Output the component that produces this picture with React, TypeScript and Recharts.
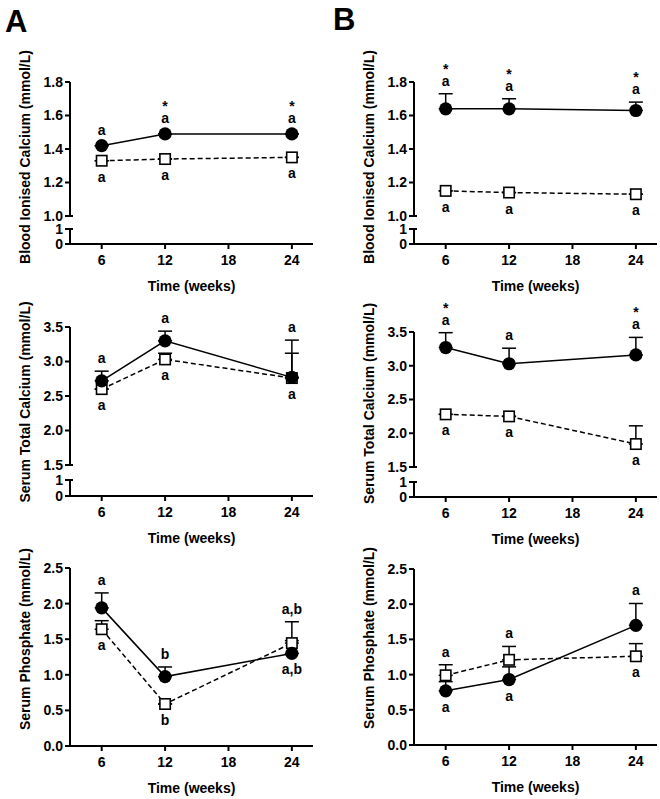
import React from 'react';
import { LineChart, Line, XAxis, YAxis, ErrorBar } from 'recharts';

const weeks = [6, 12, 24];
const timeTicks = [6, 12, 18, 24];

// A – blood ionised calcium
const aIonF = [1.42, 1.49, 1.49];
const aIonFErr = [0, 0, 0];
const aIonO = [1.33, 1.34, 1.35];
const aIonOErr = [0, 0, 0];
const aIonFUp = ['a', 'a', 'a'];
const aIonFStar = ['', '*', '*'];
const aIonFDown = ['', '', ''];
const aIonOUp = ['', '', ''];
const aIonODown = ['a', 'a', 'a'];

// B – blood ionised calcium
const bIonF = [1.64, 1.64, 1.63];
const bIonFErr = [0.09, 0.06, 0.05];
const bIonO = [1.15, 1.14, 1.13];
const bIonOErr = [0, 0, 0];
const bIonFUp = ['a', 'a', 'a'];
const bIonFStar = ['*', '*', '*'];
const bIonFDown = ['', '', ''];
const bIonOUp = ['', '', ''];
const bIonODown = ['a', 'a', 'a'];

// A – serum total calcium
const aTotF = [2.72, 3.3, 2.77];
const aTotFErr = [0.14, 0.14, 0.54];
const aTotO = [2.6, 3.03, 2.76];
const aTotOErr = [0, 0.09, 0.36];
const aTotFUp = ['a', 'a', 'a'];
const aTotFStar = ['', '', ''];
const aTotFDown = ['', '', ''];
const aTotOUp = ['', '', ''];
const aTotODown = ['a', 'a', 'a'];

// B – serum total calcium
const bTotF = [3.27, 3.03, 3.16];
const bTotFErr = [0.22, 0.23, 0.26];
const bTotO = [2.28, 2.25, 1.84];
const bTotOErr = [0, 0, 0.27];
const bTotFUp = ['a', 'a', 'a'];
const bTotFStar = ['*', '', '*'];
const bTotFDown = ['', '', ''];
const bTotOUp = ['', '', ''];
const bTotODown = ['a', 'a', 'a'];

// A – serum phosphate
const aPhF = [1.94, 0.975, 1.3];
const aPhFErr = [0.21, 0.135, 0.18];
const aPhO = [1.64, 0.59, 1.445];
const aPhOErr = [0.12, 0, 0.3];
const aPhFUp = ['a', 'b', ''];
const aPhFStar = ['', '', ''];
const aPhFDown = ['', '', 'a,b'];
const aPhOUp = ['', '', 'a,b'];
const aPhODown = ['a', 'b', ''];

// B – serum phosphate
const bPhF = [0.77, 0.93, 1.7];
const bPhFErr = [0.13, 0.18, 0.31];
const bPhO = [0.99, 1.21, 1.26];
const bPhOErr = [0.15, 0.19, 0.18];
const bPhFUp = ['', '', 'a'];
const bPhFStar = ['', '', ''];
const bPhFDown = ['a', 'a', ''];
const bPhOUp = ['a', 'a', ''];
const bPhODown = ['', '', 'a'];

const ionTicks = [1.0, 1.2, 1.4, 1.6, 1.8];
const totTicks = [1.5, 2.0, 2.5, 3.0, 3.5];
const phTicks = [0, 0.5, 1.0, 1.5, 2.0, 2.5];
const stubTicks = [0, 1];

const buildRows = (
  f: number[], fErr: number[], o: number[], oErr: number[],
  fUp: string[], fStar: string[], fDown: string[], oUp: string[], oDown: string[],
) =>
  weeks.map((t, i) => ({
    t,
    f: f[i],
    fErr: [0, fErr[i]],
    fTop: f[i] + fErr[i],
    o: o[i],
    oErr: [0, oErr[i]],
    oTop: o[i] + oErr[i],
    fUp: fUp[i],
    fStar: fStar[i],
    fDown: fDown[i],
    oUp: oUp[i],
    oDown: oDown[i],
  }));

const FONT = '"Liberation Sans", Arial, Helvetica, sans-serif';
const PLOT_LEFT = 70;
const PLOT_W = 243;
const CW = 316;
const Y_AXIS_W = 45;
const TOP_PAD = 52;
const X_AXIS_H = 60;
const X_DOMAIN: [number, number] = [3, 26];

const axisStroke = { stroke: '#000', strokeWidth: 2 };
const boldText = { fill: '#000', fontSize: 14, fontWeight: 700 };

const yTick = (cap: number | null, digits: number) => (p: any) => {
  const v = p.payload.value;
  const ax = p.x + 7;
  return (
    <g key={`yt-${v}`}>
      <text x={p.x} y={p.y} dy="0.355em" textAnchor="end" {...boldText}>
        {v.toFixed(digits)}
      </text>
      {cap !== null && v === cap && (
        <line x1={ax} x2={ax + 3} y1={p.y} y2={p.y} stroke="#000" strokeWidth={2} />
      )}
    </g>
  );
};

const yLabel = (text: string, shift: number) => (p: any) => {
  const vb = p.viewBox || { x: 25, y: 0, width: 0, height: 0 };
  const x = vb.x;
  const y = vb.y + vb.height / 2 + shift;
  return (
    <text x={x} y={y} transform={`rotate(-90 ${x} ${y})`} textAnchor="middle" dominantBaseline="central" {...boldText}>
      {text}
    </text>
  );
};

const xLabel = (p: any) => {
  const vb = p.viewBox;
  return (
    <text x={vb.x + vb.width / 2} y={vb.y + 46.5} textAnchor="middle" {...boldText}>
      Time (weeks)
    </text>
  );
};

const circleDot = (p: any) => (
  <g key={`f-${p.index}`}>
    <circle cx={p.cx} cy={p.cy} r={6.6} fill="#000" />
    {p.payload.fDown && (
      <text x={p.cx} y={p.cy + 21} textAnchor="middle" {...boldText}>
        {p.payload.fDown}
      </text>
    )}
  </g>
);

const squareDot = (p: any) => (
  <g key={`o-${p.index}`}>
    <rect x={p.cx - 5.2} y={p.cy - 5.2} width={10.4} height={10.4} fill="#fff" stroke="#000" strokeWidth={1.6} />
    {p.payload.oDown && (
      <text x={p.cx} y={p.cy + 21} textAnchor="middle" {...boldText}>
        {p.payload.oDown}
      </text>
    )}
  </g>
);

const aboveDot = (k: 'f' | 'o') => (p: any) => {
  const d = p.payload;
  const txt = d[k + 'Up'];
  const star = k === 'f' ? d.fStar : '';
  const hasErr = d[k + 'Err'][1] > 0;
  const base = p.cy - (hasErr ? 12 : 15) + 4;
  return (
    <g key={`${k}u-${p.index}`}>
      {txt && (
        <text x={p.cx} y={base} textAnchor="middle" {...boldText}>
          {txt}
        </text>
      )}
      {star && (
        <text x={p.cx} y={base - 12} textAnchor="middle" {...boldText}>
          {star}
        </text>
      )}
    </g>
  );
};

type PanelProps = {
  dx: number;
  top: number;
  bottom: number;
  stub?: [number, number];
  domain: [number, number];
  ticks: number[];
  label: string;
  shift: number;
  rows: any[];
};

function Panel({ dx, top, bottom, stub, domain, ticks, label, shift, rows }: PanelProps) {
  const plotH = bottom - top;
  const right = CW - PLOT_LEFT - PLOT_W;
  const left = PLOT_LEFT - Y_AXIS_W;
  const bottomPad = stub ? stub[1] + X_AXIS_H - bottom : 0;
  const mainH = TOP_PAD + plotH + (stub ? bottomPad : X_AXIS_H);
  return (
    <>
      <div style={{ position: 'absolute', left: dx, top: top - TOP_PAD }}>
        <LineChart width={CW} height={mainH} data={rows} margin={{ top: TOP_PAD, right, bottom: stub ? bottomPad : 0, left }}>
          <XAxis
            type="number"
            dataKey="t"
            domain={X_DOMAIN}
            ticks={timeTicks}
            interval={0}
            hide={!!stub}
            height={X_AXIS_H}
            axisLine={axisStroke}
            tickLine={axisStroke}
            tickSize={5}
            tickMargin={6}
            tick={boldText}
            label={xLabel}
          />
          <YAxis
            type="number"
            domain={domain}
            ticks={ticks}
            interval={0}
            width={Y_AXIS_W}
            axisLine={axisStroke}
            tickLine={axisStroke}
            tickSize={5}
            tickMargin={2}
            tick={yTick(stub ? domain[0] : null, 1)}
            label={yLabel(label, shift)}
          />
          <Line dataKey="o" stroke="#000" strokeWidth={1.5} strokeDasharray="5 3" dot={squareDot} activeDot={false} isAnimationActive={false}>
            <ErrorBar dataKey="oErr" direction="y" width={7} stroke="#000" strokeWidth={1.5} isAnimationActive={false} />
          </Line>
          <Line dataKey="f" stroke="#000" strokeWidth={1.5} dot={circleDot} activeDot={false} isAnimationActive={false}>
            <ErrorBar dataKey="fErr" direction="y" width={7} stroke="#000" strokeWidth={1.5} isAnimationActive={false} />
          </Line>
          <Line dataKey="oTop" stroke="none" dot={aboveDot('o')} activeDot={false} isAnimationActive={false} />
          <Line dataKey="fTop" stroke="none" dot={aboveDot('f')} activeDot={false} isAnimationActive={false} />
        </LineChart>
      </div>
      {stub && (
        <div style={{ position: 'absolute', left: dx, top: stub[0] - 10 }}>
          <LineChart width={CW} height={10 + stub[1] - stub[0] + X_AXIS_H} data={rows} margin={{ top: 10, right, bottom: 0, left }}>
            <XAxis
              type="number"
              dataKey="t"
              domain={X_DOMAIN}
              allowDataOverflow
              ticks={timeTicks}
              interval={0}
              height={X_AXIS_H}
              axisLine={axisStroke}
              tickLine={axisStroke}
              tickSize={5}
              tickMargin={6}
              tick={boldText}
              label={xLabel}
            />
            <YAxis
              type="number"
              domain={[0, 1]}
              allowDataOverflow
              ticks={stubTicks}
              interval={0}
              width={Y_AXIS_W}
              axisLine={axisStroke}
              tickLine={axisStroke}
              tickSize={5}
              tickMargin={2}
              tick={yTick(1, 0)}
            />
            <Line dataKey="f" stroke="none" dot={false} activeDot={false} isAnimationActive={false} />
          </LineChart>
        </div>
      )}
    </>
  );
}

const B_DX = 344;

export default function App() {
  const aIon = buildRows(aIonF, aIonFErr, aIonO, aIonOErr, aIonFUp, aIonFStar, aIonFDown, aIonOUp, aIonODown);
  const bIon = buildRows(bIonF, bIonFErr, bIonO, bIonOErr, bIonFUp, bIonFStar, bIonFDown, bIonOUp, bIonODown);
  const aTot = buildRows(aTotF, aTotFErr, aTotO, aTotOErr, aTotFUp, aTotFStar, aTotFDown, aTotOUp, aTotODown);
  const bTot = buildRows(bTotF, bTotFErr, bTotO, bTotOErr, bTotFUp, bTotFStar, bTotFDown, bTotOUp, bTotODown);
  const aPh = buildRows(aPhF, aPhFErr, aPhO, aPhOErr, aPhFUp, aPhFStar, aPhFDown, aPhOUp, aPhODown);
  const bPh = buildRows(bPhF, bPhFErr, bPhO, bPhOErr, bPhFUp, bPhFStar, bPhFDown, bPhOUp, bPhODown);

  return (
    <div style={{ position: 'absolute', left: 0, top: 0, width: 660, height: 799, overflow: 'hidden', background: '#fff', fontFamily: FONT }}>
      <div style={{ position: 'absolute', left: 5, top: 2, fontSize: 31, fontWeight: 700, lineHeight: '40px' }}>A</div>
      <div style={{ position: 'absolute', left: 333, top: 0, fontSize: 31, fontWeight: 700, lineHeight: '40px' }}>B</div>

      <Panel dx={0} top={82} bottom={216} stub={[229, 244]} domain={[1.0, 1.8]} ticks={ionTicks} label="Blood Ionised Calcium (mmol/L)" shift={8} rows={aIon} />
      <Panel dx={B_DX} top={82} bottom={216} stub={[229, 244]} domain={[1.0, 1.8]} ticks={ionTicks} label="Blood Ionised Calcium (mmol/L)" shift={8} rows={bIon} />

      <Panel dx={0} top={327} bottom={465} stub={[480, 496]} domain={[1.5, 3.5]} ticks={totTicks} label="Serum Total Calcium (mmol/L)" shift={6} rows={aTot} />
      <Panel dx={B_DX} top={332} bottom={467} stub={[482, 497]} domain={[1.5, 3.5]} ticks={totTicks} label="Serum Total Calcium (mmol/L)" shift={4} rows={bTot} />

      <Panel dx={0} top={568} bottom={746} domain={[0, 2.5]} ticks={phTicks} label="Serum Phosphate (mmol/L)" shift={-18} rows={aPh} />
      <Panel dx={B_DX} top={569} bottom={745} domain={[0, 2.5]} ticks={phTicks} label="Serum Phosphate (mmol/L)" shift={-19} rows={bPh} />
    </div>
  );
}
